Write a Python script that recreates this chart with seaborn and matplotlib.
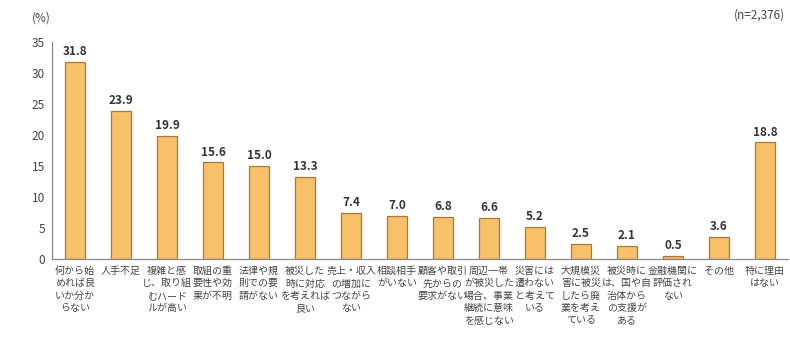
import matplotlib
matplotlib.use("Agg")
import matplotlib.pyplot as plt
import seaborn as sns
import pandas as pd
import numpy as np

categories = [
    "何から始\nめれば良\nいか分か\nらない",
    "人手不足",
    "複雑と感\nじ、取り組\nむハード\nルが高い",
    "取組の重\n要性や効\n果が不明",
    "法律や規\n則での要\n請がない",
    "被災した\n時に対応\nを考えれば\n良い",
    "売上・収入\nの増加に\nつながら\nない",
    "相談相手\nがいない",
    "顧客や取引\n先からの\n要求がない",
    "周辺一帯\nが被災した\n場合、事業\n継続に意味\nを感じない",
    "災害には\n遭わない\nと考えて\nいる",
    "大規模災\n害に被災\nしたら廃\n業を考え\nている",
    "被災時に\nは、国や自\n治体から\nの支援が\nある",
    "金融機関に\n評価され\nない",
    "その他",
    "特に理由\nはない",
]
values = [31.8, 23.9, 19.9, 15.6, 15.0, 13.3, 7.4, 7.0, 6.8, 6.6, 5.2, 2.5, 2.1, 0.5, 3.6, 18.8]
yticks = [0, 5, 10, 15, 20, 25, 30, 35]

sns.set_theme(style="white")
plt.rcParams['font.family'] = ['Noto Sans CJK JP', 'DejaVu Sans']

df = pd.DataFrame({"cat": categories, "val": values})

fig = plt.figure(figsize=(7.9, 3.4), dpi=100)
ax = fig.add_axes([52/790, 1-259/340, 736/790, 217/340])

sns.barplot(data=df, x="cat", y="val", order=categories, color="#F9C06A",
            edgecolor="#A87A3A", linewidth=0.9, width=0.42, saturation=1, ax=ax)

ax.set_xlim(-0.5, len(categories) - 0.5)
ax.set_ylim(0, 35)
ax.set_yticks(yticks)
ax.set_xlabel("")
ax.set_ylabel("")

for i, v in enumerate(values):
    ax.text(i, v + 0.6, f"{v:.1f}", ha="center", va="bottom", fontsize=8.5,
            fontweight="semibold", color="#333333")

ax.set_xticks(range(len(categories)))
ax.set_xticklabels(categories, fontsize=7.2, color="#444444", linespacing=1.3, va="top")
ax.tick_params(axis="x", which="major", length=0, pad=5)
ax.set_xticks(np.arange(0.5, len(categories) - 0.5, 1), minor=True)
ax.tick_params(axis="x", which="minor", direction="in", length=3, color="#777777", width=0.8)
ax.tick_params(axis="y", which="major", direction="out", length=3, color="#777777",
               labelsize=8.5, labelcolor="#444444", width=0.8, pad=2)

for s in ["top", "right"]:
    ax.spines[s].set_visible(False)
for s in ["left", "bottom"]:
    ax.spines[s].set_color("#888888")
    ax.spines[s].set_linewidth(0.9)

fig.text(32/790, 1-18/340, "(%)", fontsize=8.5, color="#444444", va="center")
fig.text(785/790, 1-15/340, "(n=2,376)", fontsize=8.5, color="#444444", va="center", ha="right")

fig.savefig("out.png", dpi=100)
